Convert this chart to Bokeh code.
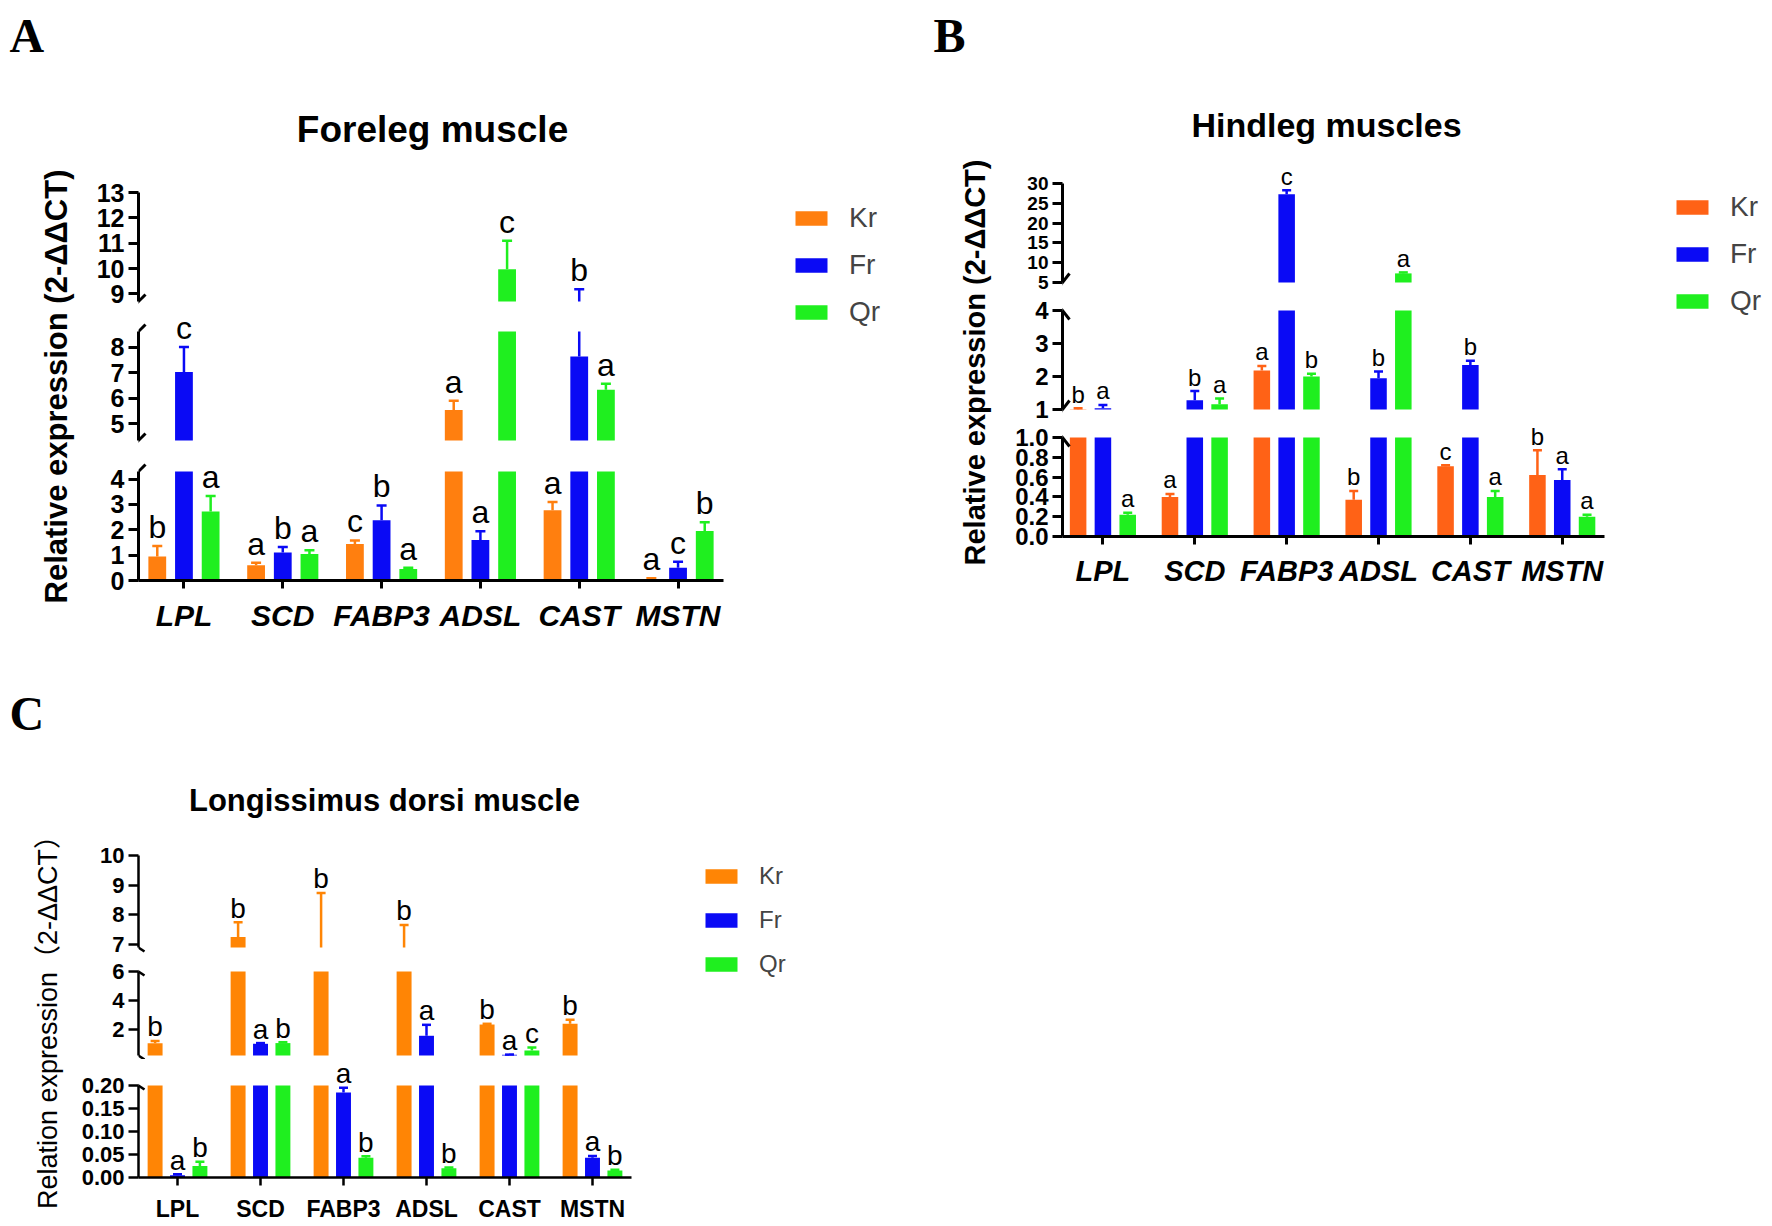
import numpy as np
from bokeh.plotting import figure
from bokeh.models import (Range1d, FixedTicker, Label, Arrow, Legend, LegendItem,
                          NumeralTickFormatter)
from bokeh.layouts import row, column
from bokeh.embed import file_html
from bokeh.resources import INLINE

# ---------------- data ----------------
genes = ["LPL", "SCD", "FABP3", "ADSL", "CAST", "MSTN"]
groups = ["Kr", "Fr", "Qr"]

# Panel A: Foreleg muscle
A_Kr = [0.95, 0.60, 1.44, 5.53, 2.77, 0.06]
A_Kr_err = [1.36, 0.70, 1.58, 5.90, 3.10, 0.09]
A_Fr = [7.03, 1.10, 2.38, 1.60, 7.64, 0.50]
A_Fr_err = [8.02, 1.32, 2.96, 1.94, 9.18, 0.74]
A_Qr = [2.72, 1.05, 0.45, 9.97, 6.33, 1.95]
A_Qr_err = [3.33, 1.19, 0.50, 11.10, 6.57, 2.30]
A_Kr_sig = ["b", "a", "c", "a", "a", "a"]
A_Fr_sig = ["c", "b", "b", "a", "b", "c"]
A_Qr_sig = ["a", "a", "a", "c", "a", "b"]
A_segments = [(8.7, 13.0), (4.33, 8.63), (0.0, 4.3)]
A_ticks = [[9, 10, 11, 12, 13], [5, 6, 7, 8], [0, 1, 2, 3, 4]]

# Panel B: Hindleg muscles
B_Kr = [1.01, 0.40, 2.18, 0.37, 0.71, 0.62]
B_Kr_err = [1.04, 0.43, 2.32, 0.46, 0.72, 0.87]
B_Fr = [1.04, 1.28, 27.3, 1.95, 2.35, 0.57]
B_Fr_err = [1.14, 1.56, 28.3, 2.15, 2.48, 0.68]
B_Qr = [0.22, 1.16, 2.00, 7.30, 0.40, 0.20]
B_Qr_err = [0.24, 1.33, 2.08, 7.55, 0.46, 0.22]
B_Kr_sig = ["b", "a", "a", "b", "c", "b"]
B_Fr_sig = ["a", "b", "c", "b", "b", "a"]
B_Qr_sig = ["a", "a", "b", "a", "a", "a"]
B_segments = [(5.0, 30.0), (1.0, 4.0), (0.0, 1.0)]
B_ticks = [[5, 10, 15, 20, 25, 30], [1, 2, 3, 4], [0, 0.2, 0.4, 0.6, 0.8, 1.0]]

# Panel C: Longissimus dorsi muscle
C_Kr = [1.08, 7.25, 6.50, 6.50, 2.37, 2.43]
C_Kr_err = [1.25, 7.75, 8.74, 7.66, 2.42, 2.70]
C_Fr = [0.005, 1.05, 0.185, 1.60, 0.30, 0.043]
C_Fr_err = [0.007, 1.10, 0.195, 2.35, 0.31, 0.047]
C_Qr = [0.025, 1.10, 0.043, 0.020, 0.60, 0.015]
C_Qr_err = [0.034, 1.16, 0.046, 0.022, 0.80, 0.017]
C_Kr_sig = ["b", "b", "b", "b", "b", "b"]
C_Fr_sig = ["a", "a", "a", "a", "a", "a"]
C_Qr_sig = ["b", "b", "b", "b", "c", "b"]
C_segments = [(6.9, 10.0), (0.25, 6.0), (0.0, 0.2)]
C_ticks = [[7, 8, 9, 10], [2, 4, 6], [0, 0.05, 0.1, 0.15, 0.2]]

FONT = "Liberation Sans"
SERIF = "Liberation Serif"
BLUE = "#0A0AF5"
GREEN = "#1FEF1F"


def base_fig(**kw):
    p = figure(toolbar_location=None, tools="", output_backend="svg", title=None, **kw)
    p.outline_line_color = None
    p.background_fill_color = "white"
    p.border_fill_color = "white"
    return p


def blank_fig(w, h, **kw):
    p = base_fig(width=w, height=h, x_range=Range1d(0, w), y_range=Range1d(h, 0),
                 x_axis_type=None, y_axis_type=None, min_border=0, **kw)
    p.grid.visible = False
    return p


def build_panel(P):
    xr = Range1d(*P["xr"])
    segs = P["segs"]
    n = len(segs)
    fw = P["fw"]
    offsets = [-0.27, 0.0, 0.27]
    bw = 0.18
    figs = []
    for k, (lo, hi) in enumerate(segs):
        sp = P["seg_px"][k]
        ph, pl = P["pad_hi"][k], P["pad_lo"][k]
        scale = (hi - lo) / sp
        last = (k == n - 1)
        p = base_fig(x_range=xr, y_range=Range1d(lo - pl * scale, hi + ph * scale),
                     frame_width=fw, frame_height=sp + ph + pl,
                     min_border_left=P["bl"], min_border_right=P["br"],
                     min_border_top=0, min_border_bottom=P["xb"] if last else 0,
                     x_axis_location="below" if last else None)
        p.grid.visible = False
        ya = p.yaxis[0]
        ya.bounds = (lo, hi)
        ya.ticker = FixedTicker(ticks=P["ticks"][k])
        if P["fmt"][k]:
            ya.formatter = NumeralTickFormatter(format=P["fmt"][k])
        ya.axis_line_width = P["alw"]
        ya.axis_line_color = "black"
        ya.major_tick_line_width = P["alw"]
        ya.major_tick_out = 10
        ya.major_tick_in = 0
        ya.minor_tick_out = 0
        ya.minor_tick_in = 0
        ya.major_label_standoff = 4
        ya.major_label_text_font = FONT
        ya.major_label_text_font_style = "bold"
        ya.major_label_text_font_size = P["tick_fonts"][k]
        ya.major_label_text_color = "black"
        if last:
            xa = p.xaxis[0]
            xa.ticker = FixedTicker(ticks=list(range(len(genes))))
            xa.major_label_overrides = {i: g for i, g in enumerate(genes)}
            xa.axis_line_width = P["alw"]
            xa.axis_line_color = "black"
            xa.major_tick_line_width = P["alw"]
            xa.major_tick_out = 8
            xa.major_tick_in = 0
            xa.minor_tick_out = 0
            xa.minor_tick_in = 0
            xa.major_label_standoff = P["xstand"]
            xa.major_label_text_font = FONT
            xa.major_label_text_font_style = P["xstyle"]
            xa.major_label_text_font_size = P["xfont"]
            xa.major_label_text_color = "black"
        for g in range(3):
            c = P["colors"][g]
            vals, errs = P["vals"][g], P["errs"][g]
            xs = [i + offsets[g] for i in range(len(genes))]
            ib = [i for i in range(len(genes)) if vals[i] > lo]
            ie = [i for i in range(len(genes)) if errs[i] > lo and vals[i] < hi]
            ic = [i for i in range(len(genes)) if lo <= errs[i] <= hi]
            if ib:
                p.vbar(x=[xs[i] for i in ib], top=[min(vals[i], hi) for i in ib],
                       bottom=lo, width=bw, fill_color=c, line_color=None)
            if ie:
                p.segment(x0=[xs[i] for i in ie], y0=[max(vals[i], lo) for i in ie],
                          x1=[xs[i] for i in ie], y1=[min(errs[i], hi) for i in ie],
                          line_color=c, line_width=2.5)
            if ic:
                p.scatter(x=[xs[i] for i in ic], y=[errs[i] for i in ic], marker="dash",
                          size=P["cap"], line_color=c, line_width=2.5)
        figs.append(p)

    # significance letters, placed in the segment holding the error-bar top
    for g in range(3):
        for i in range(len(genes)):
            e = P["errs"][g][i]
            x = i + offsets[g]
            kk = None
            for k, (lo, hi) in enumerate(segs):
                if lo <= e <= hi:
                    kk = k
                    break
            if kk is None:
                kk = min(range(n), key=lambda k: min(abs(e - segs[k][0]), abs(e - segs[k][1])))
            figs[kk].add_layout(Label(x=x, y=e, text=P["sig"][g][i], text_align="center",
                                      text_baseline="middle", y_offset=P["sig_off"],
                                      text_font=FONT, text_font_size=P["sig_font"],
                                      text_color="black"))

    # axis break marks
    x0 = P["xr"][0]
    dx = P["brk_px"][0] * (P["xr"][1] - P["xr"][0]) / fw
    for k in range(n - 1):
        for fig_i, ybound, d in ((k, segs[k][0], P["brk"][0]), (k + 1, segs[k + 1][1], P["brk"][1])):
            lo, hi = segs[fig_i]
            dy = P["brk_px"][1] * (hi - lo) / P["seg_px"][fig_i]
            figs[fig_i].add_layout(Arrow(end=None, x_start=x0 - dx, y_start=ybound - d * dy,
                                         x_end=x0 + dx, y_end=ybound + d * dy,
                                         line_width=P["alw"], line_color="black"))

    seg_col = column(*figs)
    seg_h = sum(P["seg_px"]) + sum(P["pad_hi"]) + sum(P["pad_lo"]) + P["xb"]

    # legend (renderers of zero size only carry the swatch styles)
    lf = base_fig(width=P["leg_w"], height=seg_h, x_range=Range1d(0, 1), y_range=Range1d(0, 1),
                  x_axis_type=None, y_axis_type=None, min_border_left=P["leg_l"],
                  min_border_top=P["leg_t"], min_border_right=0, min_border_bottom=0)
    lf.grid.visible = False
    items = []
    for g in range(3):
        r = lf.vbar(x=[0], top=[0], bottom=[0], width=0, fill_color=P["colors"][g],
                    line_color=None)
        items.append(LegendItem(label=groups[g], renderers=[r]))
    leg = Legend(items=items, location="top_left", glyph_width=40, glyph_height=P["leg_gh"],
                 label_standoff=18, spacing=P["leg_sp"], padding=0, margin=0,
                 border_line_color=None, background_fill_alpha=0,
                 label_text_font=FONT, label_text_font_size=P["leg_font"])
    lf.add_layout(leg)

    seg_w = P["bl"] + fw + P["br"]
    head = blank_fig(seg_w + P["leg_w"], P["head_h"])
    head.add_layout(Label(x=P["title_xy"][0], y=P["title_xy"][1], text=P["title"],
                          text_align="center", text_baseline="middle", text_font=FONT,
                          text_font_style="bold", text_font_size=P["title_size"],
                          text_color="black"))

    # left strip: panel letter and y-axis title
    lab = blank_fig(P["lab_w"], P["head_h"] + seg_h)
    lab.add_layout(Label(x=P["letter_xy"][0], y=P["letter_xy"][1], text=P["letter"],
                         text_font=SERIF, text_font_style="bold", text_font_size="48px",
                         text_baseline="middle", text_color="black"))
    lab.add_layout(Label(x=P["lab_c"][0], y=P["lab_c"][1], text=P["ylabel"], angle=90,
                         angle_units="deg", text_align="center", text_baseline="middle",
                         text_font=P["ylab_font"], text_font_style=P["ylab_style"],
                         text_font_size=P["ylab_size"], text_color="black"))

    return row(lab, column(head, row(seg_col, lf)))


PA = dict(xr=(-0.46, 5.46), fw=585, seg_px=[109, 109, 109], pad_hi=[20, 21, 16],
          pad_lo=[9, 15, 0], xb=55, bl=53, br=10,
          segs=A_segments, ticks=A_ticks,
          fmt=[None, None, None], tick_fonts=["25px", "25px", "25px"], alw=3,
          colors=["#FF7F0F", BLUE, GREEN],
          vals=[A_Kr, A_Fr, A_Qr], errs=[A_Kr_err, A_Fr_err, A_Qr_err],
          sig=[A_Kr_sig, A_Fr_sig, A_Qr_sig], sig_font="32px", sig_off=19, cap=10,
          xstyle="bold italic", xfont="30px", xstand=10, brk=(1, 1), brk_px=(7, 7),
          lab_w=85, lab_c=(56, 386), ylabel="Relative expression (2-ΔΔCT)",
          ylab_font=FONT, ylab_style="bold", ylab_size="31px",
          leg_w=167, leg_l=58, leg_t=30, leg_gh=18, leg_sp=15, leg_font="28px",
          head_h=172, letter="A", letter_xy=(9, 35), title="Foreleg muscle",
          title_xy=(347, 129), title_size="37px")

PB = dict(xr=(-0.44, 5.46), fw=542, seg_px=[99, 99, 99], pad_hi=[20, 14, 14],
          pad_lo=[14, 14, 0], xb=50, bl=67, br=8,
          segs=B_segments, ticks=B_ticks,
          fmt=[None, None, "0.0"], tick_fonts=["19px", "24px", "24px"], alw=3,
          colors=["#FF6216", BLUE, GREEN],
          vals=[B_Kr, B_Fr, B_Qr], errs=[B_Kr_err, B_Fr_err, B_Qr_err],
          sig=[B_Kr_sig, B_Fr_sig, B_Qr_sig], sig_font="24px", sig_off=14, cap=9,
          xstyle="bold italic", xfont="29px", xstand=10, brk=(1, -1), brk_px=(7, 9),
          lab_w=95, lab_c=(74, 362), ylabel="Relative expression (2-ΔΔCT)",
          ylab_font=FONT, ylab_style="bold", ylab_size="29px",
          leg_w=150, leg_l=60, leg_t=28, leg_gh=18, leg_sp=15, leg_font="28px",
          head_h=163, letter="B", letter_xy=(33, 35), title="Hindleg muscles",
          title_xy=(331, 124), title_size="34px")

PC = dict(xr=(-0.47, 5.47), fw=493, seg_px=[92, 84, 92], pad_hi=[20, 12, 26],
          pad_lo=[12, 4, 0], xb=38, bl=59, br=10,
          segs=C_segments, ticks=C_ticks,
          fmt=[None, None, "0.00"], tick_fonts=["22px", "22px", "22px"], alw=2.5,
          colors=["#FF8505", BLUE, GREEN],
          vals=[C_Kr, C_Fr, C_Qr], errs=[C_Kr_err, C_Fr_err, C_Qr_err],
          sig=[C_Kr_sig, C_Fr_sig, C_Qr_sig], sig_font="28px", sig_off=14, cap=9,
          xstyle="bold", xfont="23px", xstand=10, brk=(-1, -1), brk_px=(6, 4),
          lab_w=78, lab_c=(47, 380), ylabel="Relation expression（2-ΔΔCT）",
          ylab_font="'Liberation Sans', 'Noto Sans CJK SC'", ylab_style="normal",
          ylab_size="27px",
          leg_w=160, leg_l=60, leg_t=27, leg_gh=18, leg_sp=16, leg_font="24px",
          head_h=200, letter="C", letter_xy=(9, 78), title="Longissimus dorsi muscle",
          title_xy=(306, 165), title_size="31px")

panelA = build_panel(PA)
panelB = build_panel(PB)
panelC = build_panel(PC)

root = column(row(panelA, panelB), panelC)

with open("out.html", "w") as f:
    f.write(file_html(root, INLINE))
